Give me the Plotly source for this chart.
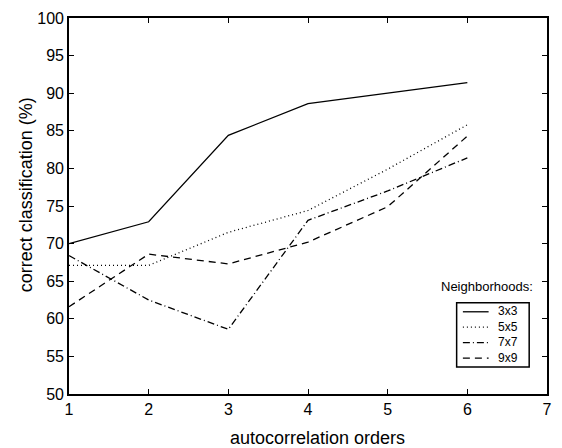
import plotly.graph_objects as go

orders = [1, 2, 3, 4, 5, 6]
n3x3 = [70.0, 72.9, 84.4, 88.6, 90.0, 91.4]
n5x5 = [67.1, 67.1, 71.5, 74.4, 79.9, 85.8]
n7x7 = [68.4, 62.5, 58.6, 73.1, 77.0, 81.4]
n9x9 = [61.6, 68.6, 67.3, 70.2, 74.9, 84.3]
names = ["3x3", "5x5", "7x7", "9x9"]
dashes = ["solid", "1px,3px", "7px,3px,1px,3px", "7px,5px"]
x_ticks = [1, 2, 3, 4, 5, 6, 7]
y_ticks = [50, 55, 60, 65, 70, 75, 80, 85, 90, 95, 100]

PLOT_T, PLOT_B, PLOT_L, PLOT_R = 13.5, 394.0, 69.0, 552.0


def px_x(p):
    return (p - PLOT_L) / (PLOT_R - PLOT_L)


def px_y(p):
    return (PLOT_B - p) / (PLOT_B - PLOT_T)


fig = go.Figure()
for name, vals, dash in zip(names, [n3x3, n5x5, n7x7, n9x9], dashes):
    fig.add_trace(go.Scatter(
        x=orders, y=vals, mode="lines", name=name, showlegend=False,
        line=dict(color="black", width=1.3, dash=dash),
    ))

axis_common = dict(
    showgrid=False, zeroline=False, showline=True, linecolor="black", linewidth=1.6,
    mirror="ticks", ticks="inside", ticklen=5, tickcolor="black", tickwidth=1,
    tickfont=dict(size=16, color="black"),
)
fig.update_xaxes(range=[1, 7], tickvals=x_ticks, ticktext=[str(v) for v in x_ticks],
                 **axis_common)
fig.update_yaxes(range=[50, 100], tickvals=y_ticks, ticktext=[str(v) for v in y_ticks],
                 **axis_common)

# axis titles
fig.add_annotation(text="autocorrelation orders", xref="paper", yref="paper",
                   x=px_x(320), y=px_y(439), xanchor="center", yanchor="middle",
                   showarrow=False, font=dict(size=18, color="black"))
fig.add_annotation(text="correct classification (%)", xref="paper", yref="paper",
                   x=px_x(25.5), y=px_y(192), xanchor="center", yanchor="middle", textangle=-90,
                   showarrow=False, font=dict(size=18, color="black"))

# legend (drawn manually to match the compact box)
fig.add_annotation(text="Neighborhoods:", xref="paper", yref="paper", x=px_x(540), y=px_y(285.7),
                   xanchor="right", yanchor="middle", showarrow=False,
                   font=dict(size=13, color="black"))
fig.add_shape(type="rect", xref="paper", yref="paper",
              x0=px_x(460.7), x1=px_x(534), y0=px_y(366.7), y1=px_y(301.7),
              line=dict(color="black", width=1.5), fillcolor="white")
leg_font = 12
row_gap = leg_font * 1.3
center_y = 334.2
rows_px = [center_y + (i - 1.5) * row_gap for i in range(len(names))]
for dash, yy in zip(dashes, rows_px):
    fig.add_shape(type="line", xref="paper", yref="paper", x0=px_x(467), x1=px_x(493),
                  y0=px_y(yy), y1=px_y(yy), line=dict(color="black", width=1.3, dash=dash))
fig.add_annotation(text="<br>".join(names), xref="paper", yref="paper",
                   x=px_x(500), y=px_y(center_y), xanchor="left", yanchor="middle",
                   align="left", showarrow=False, font=dict(size=leg_font, color="black"))

fig.update_layout(
    width=562, height=448,
    margin=dict(l=69, r=10, t=13.5, b=54, pad=0),
    paper_bgcolor="white", plot_bgcolor="white",
    font=dict(family="Liberation Sans, Arial, sans-serif", color="black"),
    showlegend=False,
)

fig.write_html("out.html", config={"displayModeBar": False},
               post_script="document.body.style.margin='0px';document.body.style.overflow='hidden';")
